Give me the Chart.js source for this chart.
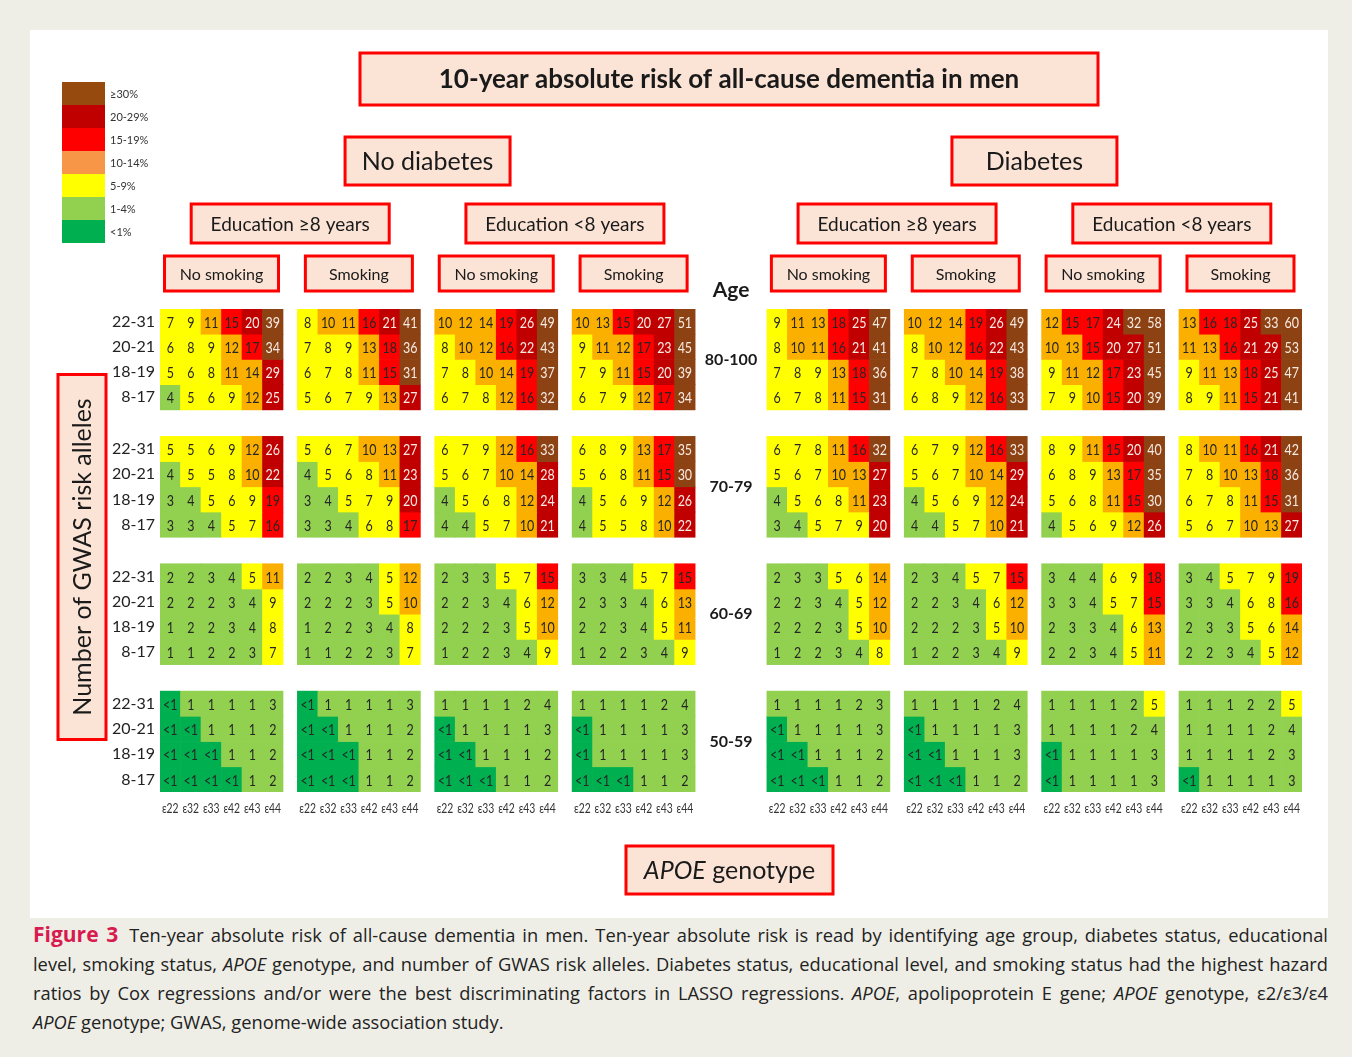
<!DOCTYPE html>
<html>
<head>
<meta charset="utf-8">
<script src="https://cdn.jsdelivr.net/npm/chart.js@4.4.1/dist/chart.umd.min.js"></script>
<style>
    body { margin: 0; background: #eeeee6; width: 1352px; height: 1057px; position: relative; overflow: hidden; }
    #panel { position: absolute; left: 30px; top: 30px; width: 1298px; height: 888px; background: #fff; }
    #caption { position: absolute; left: 33px; top: 920px; width: 1295px; font-family: "Open Sans", sans-serif; font-size: 18.3px; line-height: 29px; color: #222; }
    #caption div { white-space: nowrap; text-align: justify; text-align-last: justify; }
    #caption div.last { text-align-last: left; }
    #caption b { color: #d81b4f; font-size: 21px; margin-right: 4px; }
</style>
</head>
<body>
<div id="panel"><canvas id="riskChart" width="1298" height="888"></canvas></div>
<div id="caption">
    <div><b>Figure 3</b> Ten-year absolute risk of all-cause dementia in men. Ten-year absolute risk is read by identifying age group, diabetes status, educational</div>
    <div>level, smoking status, <i>APOE</i> genotype, and number of GWAS risk alleles. Diabetes status, educational level, and smoking status had the highest hazard</div>
    <div>ratios by Cox regressions and/or were the best discriminating factors in LASSO regressions. <i>APOE</i>, apolipoprotein E gene; <i>APOE</i> genotype, ε2/ε3/ε4</div>
    <div class="last"><i>APOE</i> genotype; GWAS, genome-wide association study.</div>
</div>
<script>
const ageGroups = ["80-100", "70-79", "60-69", "50-59"];
const gwasRows = ["22-31", "20-21", "18-19", "8-17"];
const genotypes = ["ε22", "ε32", "ε33", "ε42", "ε43", "ε44"];
const diabetesGroups = ["No diabetes", "Diabetes"];
const educationGroups = ["Education ≥8 years", "Education <8 years"];
const smokingGroups = ["No smoking", "Smoking"];

// 10-year risk in %, 0 means "<1"; each row = 8 panels x 6 genotypes
const risk80 = [
    [7, 9, 11, 15, 20, 39,  8, 10, 11, 16, 21, 41,  10, 12, 14, 19, 26, 49,  10, 13, 15, 20, 27, 51,  9, 11, 13, 18, 25, 47,  10, 12, 14, 19, 26, 49,  12, 15, 17, 24, 32, 58,  13, 16, 18, 25, 33, 60],
    [6, 8, 9, 12, 17, 34,  7, 8, 9, 13, 18, 36,  8, 10, 12, 16, 22, 43,  9, 11, 12, 17, 23, 45,  8, 10, 11, 16, 21, 41,  8, 10, 12, 16, 22, 43,  10, 13, 15, 20, 27, 51,  11, 13, 16, 21, 29, 53],
    [5, 6, 8, 11, 14, 29,  6, 7, 8, 11, 15, 31,  7, 8, 10, 14, 19, 37,  7, 9, 11, 15, 20, 39,  7, 8, 9, 13, 18, 36,  7, 8, 10, 14, 19, 38,  9, 11, 12, 17, 23, 45,  9, 11, 13, 18, 25, 47],
    [4, 5, 6, 9, 12, 25,  5, 6, 7, 9, 13, 27,  6, 7, 8, 12, 16, 32,  6, 7, 9, 12, 17, 34,  6, 7, 8, 11, 15, 31,  6, 8, 9, 12, 16, 33,  7, 9, 10, 15, 20, 39,  8, 9, 11, 15, 21, 41]
];
const risk70 = [
    [5, 5, 6, 9, 12, 26,  5, 6, 7, 10, 13, 27,  6, 7, 9, 12, 16, 33,  6, 8, 9, 13, 17, 35,  6, 7, 8, 11, 16, 32,  6, 7, 9, 12, 16, 33,  8, 9, 11, 15, 20, 40,  8, 10, 11, 16, 21, 42],
    [4, 5, 5, 8, 10, 22,  4, 5, 6, 8, 11, 23,  5, 6, 7, 10, 14, 28,  5, 6, 8, 11, 15, 30,  5, 6, 7, 10, 13, 27,  5, 6, 7, 10, 14, 29,  6, 8, 9, 13, 17, 35,  7, 8, 10, 13, 18, 36],
    [3, 4, 5, 6, 9, 19,  3, 4, 5, 7, 9, 20,  4, 5, 6, 8, 12, 24,  4, 5, 6, 9, 12, 26,  4, 5, 6, 8, 11, 23,  4, 5, 6, 9, 12, 24,  5, 6, 8, 11, 15, 30,  6, 7, 8, 11, 15, 31],
    [3, 3, 4, 5, 7, 16,  3, 3, 4, 6, 8, 17,  4, 4, 5, 7, 10, 21,  4, 5, 5, 8, 10, 22,  3, 4, 5, 7, 9, 20,  4, 4, 5, 7, 10, 21,  4, 5, 6, 9, 12, 26,  5, 6, 7, 10, 13, 27]
];
const risk60 = [
    [2, 2, 3, 4, 5, 11,  2, 2, 3, 4, 5, 12,  2, 3, 3, 5, 7, 15,  3, 3, 4, 5, 7, 15,  2, 3, 3, 5, 6, 14,  2, 3, 4, 5, 7, 15,  3, 4, 4, 6, 9, 18,  3, 4, 5, 7, 9, 19],
    [2, 2, 2, 3, 4, 9,  2, 2, 2, 3, 5, 10,  2, 2, 3, 4, 6, 12,  2, 3, 3, 4, 6, 13,  2, 2, 3, 4, 5, 12,  2, 2, 3, 4, 6, 12,  3, 3, 4, 5, 7, 15,  3, 3, 4, 6, 8, 16],
    [1, 2, 2, 3, 4, 8,  1, 2, 2, 3, 4, 8,  2, 2, 2, 3, 5, 10,  2, 2, 3, 4, 5, 11,  2, 2, 2, 3, 5, 10,  2, 2, 2, 3, 5, 10,  2, 3, 3, 4, 6, 13,  2, 3, 3, 5, 6, 14],
    [1, 1, 2, 2, 3, 7,  1, 1, 2, 2, 3, 7,  1, 2, 2, 3, 4, 9,  1, 2, 2, 3, 4, 9,  1, 2, 2, 3, 4, 8,  1, 2, 2, 3, 4, 9,  2, 2, 3, 4, 5, 11,  2, 2, 3, 4, 5, 12]
];
const risk50 = [
    [0, 1, 1, 1, 1, 3,  0, 1, 1, 1, 1, 3,  1, 1, 1, 1, 2, 4,  1, 1, 1, 1, 2, 4,  1, 1, 1, 1, 2, 3,  1, 1, 1, 1, 2, 4,  1, 1, 1, 1, 2, 5,  1, 1, 1, 2, 2, 5],
    [0, 0, 1, 1, 1, 2,  0, 0, 1, 1, 1, 2,  0, 1, 1, 1, 1, 3,  0, 1, 1, 1, 1, 3,  0, 1, 1, 1, 1, 3,  0, 1, 1, 1, 1, 3,  1, 1, 1, 1, 2, 4,  1, 1, 1, 1, 2, 4],
    [0, 0, 0, 1, 1, 2,  0, 0, 0, 1, 1, 2,  0, 0, 1, 1, 1, 2,  0, 1, 1, 1, 1, 3,  0, 0, 1, 1, 1, 2,  0, 0, 1, 1, 1, 3,  0, 1, 1, 1, 1, 3,  1, 1, 1, 1, 2, 3],
    [0, 0, 0, 0, 1, 2,  0, 0, 0, 1, 1, 2,  0, 0, 0, 1, 1, 2,  0, 0, 0, 1, 1, 2,  0, 0, 0, 1, 1, 2,  0, 0, 0, 1, 1, 2,  0, 1, 1, 1, 1, 3,  0, 1, 1, 1, 1, 3]
];
const riskBlocks = [risk80, risk70, risk60, risk50];

const legendLabels = ["≥30%", "20-29%", "15-19%", "10-14%", "5-9%", "1-4%", "<1%"];
const legendColors = ["#974a0e", "#c00000", "#ff0000", "#f79646", "#ffff00", "#92d050", "#00b050"];

// layout on the scales: where each panel / age block begins
const panelStart = [0, 6.7, 13.4, 20.1, 29.6, 36.3, 43.0, 49.7];
const blockStart = [0, 5.05, 10.1, 15.15];

const cellColor = v => {
    if (v >= 30) return "#8c4213";
    if (v >= 20) return "#c00000";
    if (v >= 15) return "#ff0000";
    if (v >= 10) return "#fbb000";
    if (v >= 5) return "#ffff00";
    if (v >= 1) return "#92d050";
    return "#00b050";
}

let datasets = [];
riskBlocks.forEach((block, b) => {
    block.forEach((row, r) => {
        let points = [];
        row.forEach((v, i) => {
            let p = Math.floor(i / 6), j = i % 6;
            points.push({ x: panelStart[p] + j + 0.5, y: [blockStart[b] + r, blockStart[b] + r + 1], v: v });
        });
        datasets.push({
            label: ageGroups[b] + " " + gwasRows[r],
            data: points,
            backgroundColor: row.map(cellColor),
            borderWidth: 0,
            grouped: false,
            categoryPercentage: 1,
            barPercentage: 1
        });
    });
});

const drawBox = (ctx, cx, cy, w, h, text, font) => {
    ctx.save();
    ctx.fillStyle = "#fbe4d6";
    ctx.fillRect(cx - w / 2, cy - h / 2, w, h);
    ctx.strokeStyle = "#f00";
    ctx.lineWidth = 3;
    ctx.strokeRect(cx - w / 2, cy - h / 2, w, h);
    if (text) {
        ctx.fillStyle = "#1a1a1a";
        ctx.font = font;
        ctx.textAlign = "center";
        ctx.textBaseline = "middle";
        ctx.fillText(text, cx, cy + 1);
    }
    ctx.restore();
}

// condensed text: squeeze horizontally like the Calibri of the original
const narrowText = (ctx, text, x, y, sx) => {
    ctx.save();
    ctx.translate(x, y);
    ctx.scale(sx, 1);
    ctx.fillText(text, 0, 0);
    ctx.restore();
}

const figurePlugin = {
    id: "figure",
    afterDatasetsDraw(chart) {
        let ctx = chart.ctx;
        ctx.save();
        ctx.textAlign = "center";
        ctx.textBaseline = "middle";
        ctx.font = "16px Lato";
        chart.data.datasets.forEach((ds, d) => {
            chart.getDatasetMeta(d).data.forEach((el, i) => {
                let v = ds.data[i].v;
                ctx.fillStyle = v >= 20 ? "#f6ebe4" : "#262626";
                narrowText(ctx, v === 0 ? "<1" : String(v), el.x, (el.y + el.base) / 2 + 1, 0.78);
            });
        });

        // genotype labels under every panel, on the x scale ticks
        let xs = chart.scales.x;
        ctx.fillStyle = "#333";
        ctx.font = "14px Lato";
        xs.ticks.forEach((t, i) => {
            narrowText(ctx, genotypes[i % 6], xs.getPixelForValue(t.value), chart.chartArea.bottom + 16, 0.74);
        });
        ctx.restore();
    },
    afterDraw(chart) {
        let ctx = chart.ctx;
        let xs = chart.scales.x, ys = chart.scales.y;
        let panelMid = p => xs.getPixelForValue(panelStart[p] + 3);

        drawBox(ctx, 699, 49, 738, 52, "10-year absolute risk of all-cause dementia in men", "bold 26px Lato");

        [0, 1].forEach(g => {
            let mid = (panelMid(g * 4) + panelMid(g * 4 + 3)) / 2;
            drawBox(ctx, mid, 131, 165, 48, diabetesGroups[g], "25px Lato");
            [0, 1].forEach(e => {
                let p = g * 4 + e * 2;
                drawBox(ctx, (panelMid(p) + panelMid(p + 1)) / 2, 193.5, 198, 39, educationGroups[e], "19px Lato");
                [0, 1].forEach(s => {
                    drawBox(ctx, panelMid(p + s), 243.5, s === 0 ? 114 : 107, 35, smokingGroups[s], "16px Lato");
                });
            });
        });

        // age labels in the middle gap
        let ageX = xs.getPixelForValue((panelStart[3] + 6 + panelStart[4]) / 2);
        ctx.save();
        ctx.fillStyle = "#1a1a1a";
        ctx.textAlign = "center";
        ctx.textBaseline = "middle";
        ctx.font = "bold 21px Lato";
        ctx.fillText("Age", ageX, 260);
        ctx.font = "bold 16px Lato";
        ageGroups.forEach((a, b) => {
            ctx.fillText(a, ageX, ys.getPixelForValue(blockStart[b] + 2));
        });
        ctx.restore();

        // y title box
        drawBox(ctx, 52, 527, 48, 365, "", "");
        ctx.save();
        ctx.translate(52, 527);
        ctx.rotate(-Math.PI / 2);
        ctx.fillStyle = "#1a1a1a";
        ctx.font = "25px Lato";
        ctx.textAlign = "center";
        ctx.textBaseline = "middle";
        ctx.fillText("Number of GWAS risk alleles", 0, 1);
        ctx.restore();

        // x title box
        drawBox(ctx, 699.5, 840, 207, 48, "", "");
        ctx.save();
        ctx.fillStyle = "#1a1a1a";
        ctx.textBaseline = "middle";
        ctx.font = "italic 25px Lato";
        let w1 = ctx.measureText("APOE").width;
        ctx.font = "25px Lato";
        let w2 = ctx.measureText(" genotype").width;
        let x0 = 699.5 - (w1 + w2) / 2;
        ctx.font = "italic 25px Lato";
        ctx.fillText("APOE", x0, 841);
        ctx.font = "25px Lato";
        ctx.fillText(" genotype", x0 + w1, 841);
        ctx.restore();

        // colour legend
        ctx.save();
        ctx.font = "11px Lato";
        ctx.textBaseline = "middle";
        legendLabels.forEach((l, i) => {
            ctx.fillStyle = legendColors[i];
            ctx.fillRect(32, 52 + i * 23, 43, 23);
            ctx.fillStyle = "#333";
            ctx.fillText(l, 80, 52 + i * 23 + 12);
        });
        ctx.restore();
    }
};

new Chart(document.getElementById("riskChart"), {
    type: "bar",
    data: { datasets: datasets },
    plugins: [figurePlugin],
    options: {
        responsive: false,
        animation: false,
        layout: { padding: { left: 70, right: 26, top: 279, bottom: 96 } },
        plugins: { legend: { display: false }, tooltip: { enabled: false } },
        scales: {
            x: {
                type: "linear",
                offset: false,
                min: 0,
                max: 55.7,
                grid: { display: false, drawTicks: false },
                border: { display: false },
                afterBuildTicks: scale => {
                    let t = [];
                    panelStart.forEach(s => genotypes.forEach((g, j) => t.push({ value: s + j + 0.5 })));
                    scale.ticks = t;
                },
                afterFit: scale => { scale.height = 30; },
                ticks: { display: false, autoSkip: false }
            },
            y: {
                type: "linear",
                reverse: true,
                min: 0,
                max: 19.15,
                grid: { display: false, drawTicks: false },
                border: { display: false },
                afterBuildTicks: scale => {
                    let t = [];
                    blockStart.forEach(s => gwasRows.forEach((g, r) => t.push({ value: s + r + 0.5 })));
                    scale.ticks = t;
                },
                afterFit: scale => { scale.width = 60; },
                ticks: {
                    autoSkip: false,
                    padding: 5,
                    color: "#222",
                    font: { family: "Lato", size: 16 },
                    callback: (v, i) => gwasRows[i % 4]
                }
            }
        }
    }
});
</script>
</body>
</html>
